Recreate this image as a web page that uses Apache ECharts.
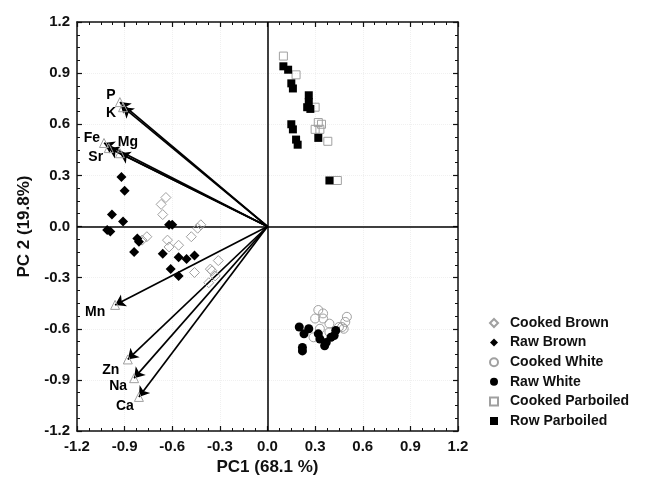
<!DOCTYPE html>
<html><head><meta charset="utf-8">
<script src="https://cdn.jsdelivr.net/npm/echarts@6/dist/echarts.min.js"></script>
<style>html,body{margin:0;padding:0;background:#fff}#c{width:646px;height:486px}</style>
</head><body><div id="c"></div>
<script>
// ---- data ----
const cookedBrown = [[-0.64,0.17],[-0.67,0.13],[-0.66,0.07],[-0.79,-0.08],[-0.76,-0.06],[-0.63,-0.08],[-0.62,-0.12],[-0.56,-0.11],[-0.48,-0.06],[-0.44,-0.01],[-0.42,0.01],[-0.46,-0.27],[-0.36,-0.25],[-0.35,-0.26],[-0.31,-0.20],[-0.33,-0.29],[-0.37,-0.33]];
const rawBrown = [[-0.92,0.29],[-0.90,0.21],[-0.98,0.07],[-0.91,0.03],[-1.01,-0.02],[-0.99,-0.03],[-0.82,-0.07],[-0.81,-0.09],[-0.84,-0.15],[-0.62,0.01],[-0.60,0.01],[-0.66,-0.16],[-0.56,-0.18],[-0.51,-0.19],[-0.46,-0.17],[-0.61,-0.25],[-0.56,-0.29]];
const cookedWhite = [[0.32,-0.49],[0.35,-0.51],[0.35,-0.54],[0.30,-0.54],[0.39,-0.57],[0.50,-0.53],[0.49,-0.56],[0.47,-0.59],[0.48,-0.60],[0.45,-0.59],[0.39,-0.62],[0.29,-0.65],[0.33,-0.60]];
const rawWhite = [[0.20,-0.59],[0.23,-0.63],[0.26,-0.60],[0.32,-0.63],[0.33,-0.66],[0.22,-0.71],[0.22,-0.73],[0.37,-0.68],[0.36,-0.70],[0.40,-0.65],[0.43,-0.61],[0.42,-0.64]];
const cookedParboiled = [[0.10,1.00],[0.18,0.89],[0.30,0.70],[0.32,0.61],[0.34,0.60],[0.30,0.57],[0.38,0.50],[0.44,0.27],[0.33,0.57]];
const rawParboiled = [[0.10,0.94],[0.13,0.92],[0.15,0.84],[0.16,0.81],[0.26,0.77],[0.26,0.73],[0.25,0.70],[0.27,0.69],[0.15,0.60],[0.16,0.57],[0.18,0.51],[0.19,0.48],[0.32,0.52],[0.39,0.27]];
const seriesNames = ['Cooked Brown','Raw Brown','Cooked White','Raw White','Cooked Parboiled','Row Parboiled'];
const loadNames = ['P','K','Fe','Mg','Sr','Mn','Zn','Na','Ca'];
const loadX = [-0.93,-0.91,-1.03,-0.93,-1.00,-0.96,-0.88,-0.84,-0.81];
const loadY = [0.73,0.70,0.49,0.43,0.46,-0.46,-0.78,-0.89,-1.00];
const tickMin = -1.2, tickMax = 1.2, tickStep = 0.3;
const xTitle = 'PC1 (68.1 %)', yTitle = 'PC 2 (19.8%)';

// ---- styles ----
const FONT = '"Liberation Sans", Arial, sans-serif';
const labelOffsets = {P:[-9,-7],K:[-12,6],Fe:[-12,-5],Mg:[8,-11],Sr:[-13,9],Mn:[-20,7],Zn:[-17,11],Na:[-16,8],Ca:[-14,9]};
const GREY = '#a0a0a0';
const hollow = {color:'rgba(255,255,255,0)', borderColor:GREY, borderWidth:1, opacity:1};
const solid = {color:'#000', opacity:1};
const seriesStyle = [
  {symbol:'diamond', size:10, style:hollow},
  {symbol:'diamond', size:10, style:solid},
  {symbol:'circle', size:9, style:hollow},
  {symbol:'circle', size:9, style:solid},
  {symbol:'rect', size:8, style:hollow},
  {symbol:'rect', size:8, style:solid}
];
const groups = [cookedBrown, rawBrown, cookedWhite, rawWhite, cookedParboiled, rawParboiled];

function mkX(pos, main){
  return {type:'value', min:tickMin, max:tickMax, interval:tickStep, position:pos,
    name: main ? xTitle : '', nameLocation:'middle', nameGap:24,
    nameTextStyle:{fontFamily:FONT, fontWeight:'bold', fontSize:17, color:'#111'},
    axisLine:{show:true, onZero:false, lineStyle:{color:'#111', width:1.5}},
    axisTick:{show:true, inside:true, length:5, lineStyle:{color:'#111', width:1.2}},
    minorTick:{show:true, splitNumber:4, length:3, lineStyle:{color:'#111', width:1}},
    axisLabel:{show:main, margin:8, fontFamily:FONT, fontWeight:'bold', fontSize:15, color:'#111', formatter:v=>v.toFixed(1)},
    splitLine:{show:main, lineStyle:{color:'#f0f0f0', type:'dotted'}}};
}
function mkY(pos, main){
  return {type:'value', min:tickMin, max:tickMax, interval:tickStep, position:pos,
    name: main ? yTitle : '', nameLocation:'middle', nameGap:38, nameRotate:90,
    nameTextStyle:{fontFamily:FONT, fontWeight:'bold', fontSize:17, color:'#111'},
    axisLine:{show:true, onZero:false, lineStyle:{color:'#111', width:1.5}},
    axisTick:{show:true, inside:true, length:5, lineStyle:{color:'#111', width:1.2}},
    minorTick:{show:true, splitNumber:4, length:3, lineStyle:{color:'#111', width:1}},
    axisLabel:{show:main, margin:7, fontFamily:FONT, fontWeight:'bold', fontSize:15, color:'#111', formatter:v=>v.toFixed(1)},
    splitLine:{show:main, lineStyle:{color:'#f0f0f0', type:'dotted'}}};
}

const series = [];
// zero lines
series.push({type:'line', data:[], xAxisIndex:0, yAxisIndex:0, silent:true,
  markLine:{silent:true, symbol:['none','none'], label:{show:false}, animation:false,
    lineStyle:{color:'#000', width:1.5, type:'solid'}, data:[{xAxis:0},{yAxis:0}]}});
// arrows
series.push({type:'lines', coordinateSystem:'cartesian2d', silent:true, z:3,
  symbol:['none','arrow'], symbolSize:[0,10],
  lineStyle:{color:'#000', width:1.7, opacity:1},
  data: loadNames.map((n,i)=>({coords:[[0,0],[loadX[i],loadY[i]]]}))});
// loading points & labels
series.push({type:'scatter', symbol:'triangle', symbolSize:9, z:4, silent:true,
  itemStyle:{color:'rgba(255,255,255,0)', borderColor:GREY, borderWidth:1, opacity:1},
  data: loadNames.map((n,i)=>({value:[loadX[i],loadY[i]], name:n,
    label:{show:true, position:'inside', offset:labelOffsets[n], formatter:n,
      fontFamily:FONT, fontWeight:'bold', fontSize:14, color:'#000'}}))});
// groups
groups.forEach((g,i)=>{
  series.push({type:'scatter', name:seriesNames[i], symbol:seriesStyle[i].symbol,
    symbolSize:seriesStyle[i].size, itemStyle:seriesStyle[i].style, z:5, data:g});
});

const chart = echarts.init(document.getElementById('c'), null, {renderer:'canvas'});
chart.setOption({
  animation:false,
  backgroundColor:'#fff',
  grid:{left:77, right:188, top:22, bottom:55},
  xAxis:[mkX('bottom', true), mkX('top', false)],
  yAxis:[mkY('left', true), mkY('right', false)],
  legend:{orient:'vertical', left:484, top:311, itemWidth:8, itemHeight:8, itemGap:5.6,
    data:seriesNames,
    textStyle:{fontFamily:FONT, fontWeight:'bold', fontSize:14, color:'#111', lineHeight:14, padding:[0,0,0,7]}},
  series: series
});
</script></body></html>
